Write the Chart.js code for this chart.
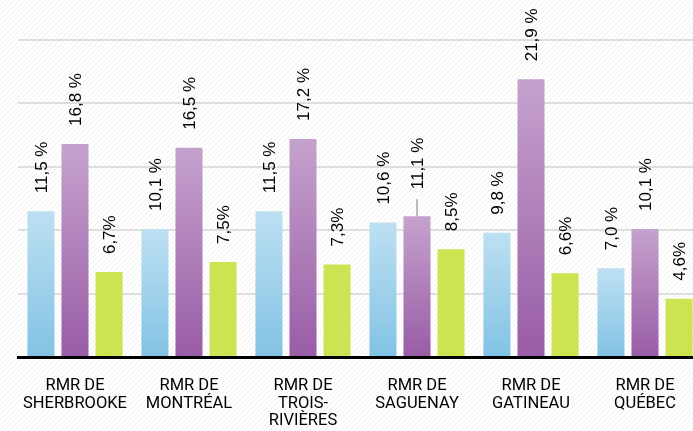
<!DOCTYPE html>
<html>
<head>
<meta charset="utf-8">
<script src="https://cdn.jsdelivr.net/npm/chart.js@4"></script>
<style>
  html, body { margin: 0; padding: 0; overflow: hidden; background: #fff; }
  #wrap { width: 702px; height: 448px; }
</style>
</head>
<body>
<div id="wrap"><canvas id="chart"></canvas></div>
<script>
const categories = [
  ['RMR DE', 'SHERBROOKE'],
  ['RMR DE', 'MONTRÉAL'],
  ['RMR DE', 'TROIS-', 'RIVIÈRES'],
  ['RMR DE', 'SAGUENAY'],
  ['RMR DE', 'GATINEAU'],
  ['RMR DE', 'QUÉBEC'],
];
const seriesBlue = [11.5, 10.1, 11.5, 10.6, 9.8, 7.0];
const seriesPurple = [16.8, 16.5, 17.2, 11.1, 21.9, 10.1];
const seriesGreen = [6.7, 7.5, 7.3, 8.5, 6.6, 4.6];
const yTicks = [0, 5, 10, 15, 20, 25];

const gradientFill = (top, bottom) => (c) => {
  const chart = c.chart;
  const y = chart.scales.y;
  if (!chart.chartArea || !y) return bottom;
  const y0 = y.getPixelForValue(c.raw);
  const y1 = y.getPixelForValue(0);
  const g = chart.ctx.createLinearGradient(0, y0, 0, y1);
  g.addColorStop(0, top);
  g.addColorStop(1, bottom);
  return g;
};

const fmt = (v) => v.toFixed(1).replace('.', ',');

// hatched background
const hatchPlugin = {
  id: 'hatch',
  beforeDraw(chart) {
    const ctx = chart.ctx;
    ctx.save();
    ctx.fillStyle = '#ffffff';
    ctx.fillRect(0, 0, chart.width, chart.height);
    ctx.strokeStyle = '#efefef';
    ctx.lineWidth = 1;
    ctx.beginPath();
    for (let k = 0; k < chart.width + chart.height; k += 5) {
      ctx.moveTo(k, 0);
      ctx.lineTo(k - chart.height, chart.height);
    }
    ctx.stroke();
    ctx.restore();
  },
};

// rotated value labels above bars
const valueLabels = {
  id: 'valueLabels',
  afterDatasetsDraw(chart, args, opts) {
    const ctx = chart.ctx;
    ctx.save();
    ctx.font = '17px "Liberation Sans", Arial, sans-serif';
    ctx.fillStyle = '#000';
    ctx.textAlign = 'left';
    ctx.textBaseline = 'middle';
    chart.data.datasets.forEach((ds, di) => {
      chart.getDatasetMeta(di).data.forEach((bar, i) => {
        const suffix = di === 2 ? '%' : ' %';
        let gap = 18;
        if (opts.leader && opts.leader.dataset === di && opts.leader.index === i) {
          gap = 27;
          ctx.save();
          ctx.strokeStyle = '#a6a6a6';
          ctx.lineWidth = 1.5;
          ctx.beginPath();
          ctx.moveTo(bar.x, bar.y);
          ctx.lineTo(bar.x, bar.y - 17);
          ctx.stroke();
          ctx.restore();
        }
        ctx.save();
        ctx.translate(bar.x + 1.5, bar.y - gap);
        ctx.rotate(-Math.PI / 2);
        ctx.fillText(fmt(ds.data[i]) + suffix, 0, 0);
        ctx.restore();
      });
    });
    ctx.restore();
  },
};

const data = {
  labels: categories,
  datasets: [
    {
      data: seriesBlue,
      backgroundColor: gradientFill('#bde0f2', '#82c2e4'),
    },
    {
      data: seriesPurple,
      backgroundColor: gradientFill('#c5a2cd', '#995ca6'),
    },
    {
      data: seriesGreen,
      backgroundColor: '#cde352',
    },
  ],
};

const config = {
  type: 'bar',
  data: data,
  options: {
    responsive: true,
    maintainAspectRatio: false,
    animation: false,
    categoryPercentage: 0.896,
    barPercentage: 0.794,
    layout: {
      padding: { top: 40, left: 18, right: 0, bottom: 6 },
    },
    scales: {
      x: {
        grid: { display: false },
        border: { display: true, color: '#000', width: 3 },
        ticks: {
          color: '#000',
          maxRotation: 0,
          autoSkip: false,
          padding: 12,
          font: { family: 'Roboto, "Liberation Sans", Arial, sans-serif', size: 16.5, lineHeight: 1.07 },
        },
      },
      y: {
        min: 0,
        max: 25,
        afterBuildTicks: (axis) => {
          axis.ticks = yTicks.map((v) => ({ value: v }));
        },
        ticks: { display: false },
        border: { display: false },
        grid: { color: '#dedede', lineWidth: 2, drawTicks: false },
      },
    },
    plugins: {
      legend: { display: false },
      tooltip: { enabled: false },
      valueLabels: { leader: { dataset: 1, index: 3 } },
    },
  },
  plugins: [hatchPlugin, valueLabels],
};

new Chart(document.getElementById('chart'), config);
</script>
</body>
</html>
